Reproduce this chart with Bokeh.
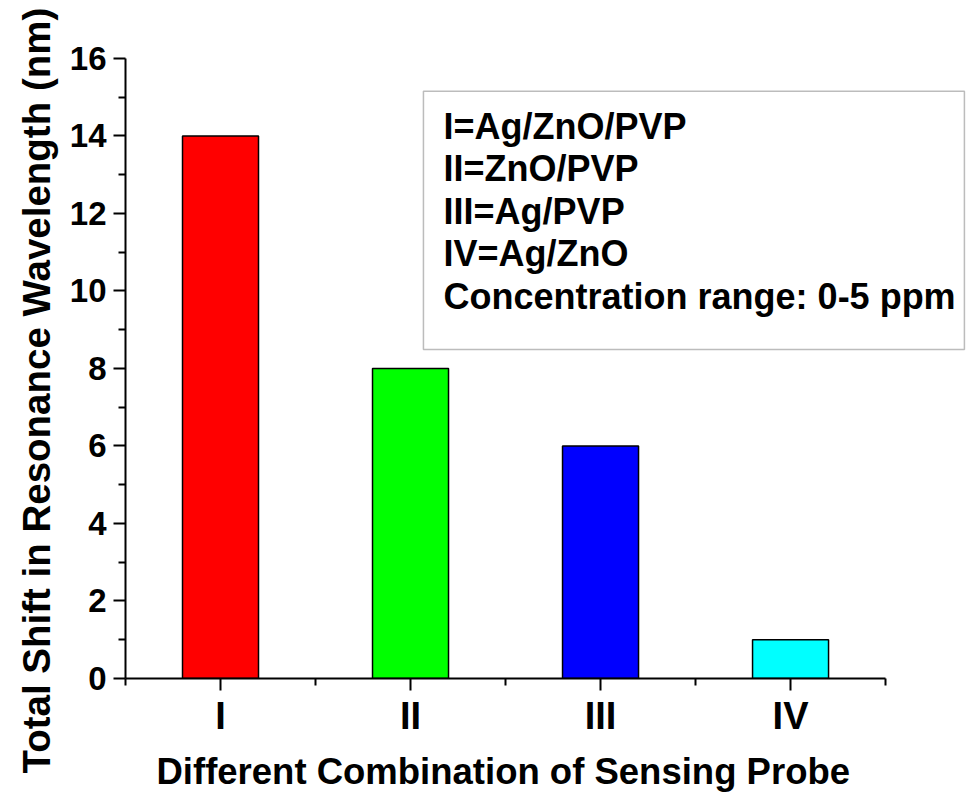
from bokeh.plotting import figure
from bokeh.models import Range1d, FixedTicker, Label, BoxAnnotation, ColumnDataSource, Title
from bokeh.embed import file_html
from bokeh.resources import INLINE

# ---- data ----
categories = ["I", "II", "III", "IV"]
shift_nm = [14, 8, 6, 1]
bar_colors = ["#FF0000", "#00FF00", "#0000FF", "#00FFFF"]
legend_lines = ["I=Ag/ZnO/PVP", "II=ZnO/PVP", "III=Ag/PVP", "IV=Ag/ZnO",
                "Concentration range: 0-5 ppm"]
y_ticks = [0, 2, 4, 6, 8, 10, 12, 14, 16]
y_minor = [1, 3, 5, 7, 9, 11, 13, 15]
x_title = "Different Combination of Sensing Probe"
y_title = "Total Shift in Resonance Wavelength (nm)"

FONT = "Liberation Sans"
positions = list(range(1, len(categories) + 1))

p = figure(width=966, height=800, output_backend="svg", toolbar_location=None,
           x_range=Range1d(0.5, 4.926), y_range=Range1d(0, 16.72),
           min_border_left=125, min_border_right=0, min_border_top=30,
           min_border_bottom=122)
p.outline_line_color = None
p.xgrid.visible = False
p.ygrid.visible = False
p.background_fill_color = "white"
p.border_fill_color = "white"

src = ColumnDataSource(dict(x=positions, top=shift_nm, color=bar_colors))
p.vbar(x="x", top="top", width=0.4, bottom=0, source=src,
       fill_color="color", line_color="black", line_width=1.5)

# x axis
xa = p.xaxis[0]
xa.ticker = FixedTicker(ticks=positions, minor_ticks=[0.5, 1.5, 2.5, 3.5, 4.5])
xa.major_label_overrides = {i: c for i, c in zip(positions, categories)}
xa.bounds = (0.5, 4.5)
# y axis
ya = p.yaxis[0]
ya.ticker = FixedTicker(ticks=y_ticks, minor_ticks=y_minor)
ya.bounds = (0, 16)

for ax in (xa, ya):
    ax.axis_line_width = 2
    ax.axis_line_color = "black"
    ax.major_tick_line_width = 2
    ax.minor_tick_line_width = 2
    ax.major_tick_line_color = "black"
    ax.minor_tick_line_color = "black"
    ax.major_tick_in = 0
    ax.major_tick_out = 12
    ax.minor_tick_in = 0
    ax.minor_tick_out = 7
    ax.major_label_text_font = FONT
    ax.major_label_text_font_style = "bold"
    ax.major_label_text_color = "black"

xa.major_label_text_font_size = "38px"
ya.major_label_text_font_size = "33px"
xa.major_label_standoff = 4
ya.major_label_standoff = 7

# axis titles as side-panel titles (offset as in the reference)
p.add_layout(Title(text=x_title, text_font=FONT, text_font_style="bold",
                   text_font_size="36.5px", text_color="black",
                   align="left", offset=31, standoff=18), "below")
p.add_layout(Title(text=y_title, text_font=FONT, text_font_style="bold",
                   text_font_size="38.5px", text_color="black",
                   align="left", offset=-95, standoff=14,
                   vertical_align="top"), "left")

# legend box (layout in data units of the frame)
box = BoxAnnotation(left=2.068, right=4.915, top=15.15, bottom=8.49,
                    fill_color="white", fill_alpha=1.0,
                    line_color="#222222", line_width=1.5, level="annotation")
p.add_layout(box)

x_text = 2.174
y_first = (678 - 126) / 38.75
y_step = 42.5 / 38.75
for i, line in enumerate(legend_lines):
    p.add_layout(Label(x=x_text, y=y_first - i * y_step, text=line,
                       text_font=FONT, text_font_style="bold",
                       text_font_size="36px", text_color="black",
                       text_baseline="middle", text_align="left"))

open("out.html", "w").write(file_html(p, INLINE))
